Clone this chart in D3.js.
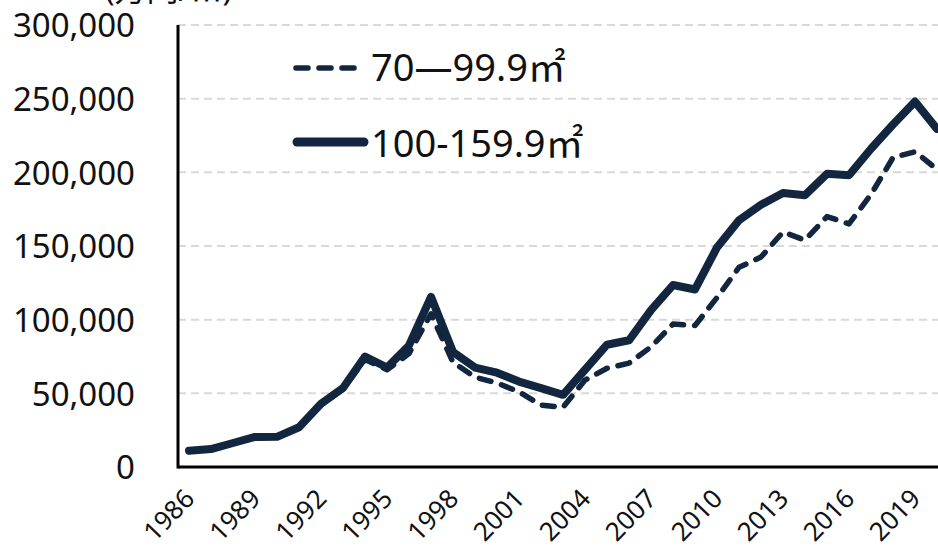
<!DOCTYPE html>
<html>
<head>
<meta charset="utf-8">
<script src="https://cdn.jsdelivr.net/npm/d3@7"></script>
<style>
  body { margin: 0; background: #fff; }
  text { font-family: "Noto Sans", "Noto Sans CJK JP", sans-serif; fill: #111; }
</style>
</head>
<body>
<div id="chart"></div>
<script>
// data
const years = d3.range(1986, 2021);
const tickYears = [1986, 1989, 1992, 1995, 1998, 2001, 2004, 2007, 2010, 2013, 2016, 2019];
const yTicks = [0, 50000, 100000, 150000, 200000, 250000, 300000];

const small = [ // 70-99.9
    10500, 12000, 16000, 20000, 20000, 26500, 42500, 53000, 73000, 66000,
    77000, 104000, 71000, 61000, 57000, 51000, 42000, 40500, 59000, 67000,
    70500, 81500, 97000, 96000, 115000, 135500, 142500, 159500, 154000, 170000,
    165000, 185000, 210000, 214000, 202000
];
const large = [ // 100-159.9
    11000, 12200, 16300, 20400, 20500, 27000, 43000, 53600, 75000, 67500,
    82500, 115500, 78000, 67500, 64000, 58000, 53500, 49000, 66000, 83000,
    86000, 106500, 123500, 120500, 149000, 167500, 178000, 186000, 184500, 199000,
    198000, 216000, 232500, 248000, 229500
];

const width = 938;
const height = 554;
const plotLeft = 178, plotTop = 25, plotBottom = 467;
const navy = "#13263f";

const svg = d3.select('#chart').append('svg')
    .attr('width', width)
    .attr('height', height);

const x = d3.scaleBand()
    .domain(years)
    .range([plotLeft, plotLeft + years.length * 22]);

const y = d3.scaleLinear()
    .domain([0, 300000])
    .range([plotBottom, plotTop]);

const cx = d => x(d) + x.bandwidth() / 2;

// grid
svg.append("g")
    .selectAll("line")
    .data(yTicks.filter(d => d > 0))
    .enter().append("line")
    .attr("x1", plotLeft)
    .attr("x2", width)
    .attr("y1", d => y(d))
    .attr("y2", d => y(d))
    .attr("stroke", "#d9d9d9")
    .attr("stroke-width", 2)
    .attr("stroke-dasharray", "8,5");

// y axis labels
const yAxis = d3.axisLeft(y)
    .tickValues(yTicks)
    .tickFormat(d3.format(","))
    .tickSize(0)
    .tickPadding(43);

svg.append("g")
    .attr("transform", `translate(${plotLeft},0)`)
    .call(yAxis)
    .call(g => g.select(".domain").remove())
    .selectAll("text")
    .style("font-size", "33px")
    .attr("dy", "0.36em");

// x axis labels
const xAxis = d3.axisBottom(x)
    .tickValues(tickYears)
    .tickSize(0)
    .tickPadding(0);

svg.append("g")
    .attr("transform", `translate(0,${plotBottom})`)
    .call(xAxis)
    .call(g => g.select(".domain").remove())
    .selectAll("text")
    .style("font-size", "26px")
    .attr("text-anchor", "end")
    .attr("dy", 0)
    .attr("transform", "translate(7,33) rotate(-46)");

// axis lines
svg.append("line")
    .attr("x1", plotLeft).attr("x2", plotLeft)
    .attr("y1", plotTop).attr("y2", plotBottom + 1.5)
    .attr("stroke", "#000").attr("stroke-width", 3);
svg.append("line")
    .attr("x1", plotLeft).attr("x2", width)
    .attr("y1", plotBottom).attr("y2", plotBottom)
    .attr("stroke", "#000").attr("stroke-width", 3);

// unit label, cut off at the top like in the picture
svg.append("text")
    .attr("x", 105)
    .attr("y", 1)
    .style("font-size", "32px")
    .text("(万円/㎡)");

const line = d3.line()
    .x((d, i) => cx(years[i]))
    .y(d => y(d));

svg.append("path")
    .datum(small)
    .attr("d", line)
    .attr("fill", "none")
    .attr("stroke", navy)
    .attr("stroke-width", 5.5)
    .attr("stroke-linecap", "round")
    .attr("stroke-linejoin", "round")
    .attr("stroke-dasharray", "12,11");

svg.append("path")
    .datum(large)
    .attr("d", line)
    .attr("fill", "none")
    .attr("stroke", navy)
    .attr("stroke-width", 8)
    .attr("stroke-linecap", "round")
    .attr("stroke-linejoin", "round");

// legend
const legend = svg.append("g");
legend.append("line")
    .attr("x1", 296).attr("x2", 356)
    .attr("y1", 68).attr("y2", 68)
    .attr("stroke", navy)
    .attr("stroke-width", 5.5)
    .attr("stroke-linecap", "round")
    .attr("stroke-dasharray", "12,11");
legend.append("text")
    .attr("x", 371).attr("y", 81)
    .style("font-size", "38px")
    .text("70—99.9㎡");

legend.append("line")
    .attr("x1", 297).attr("x2", 364)
    .attr("y1", 142).attr("y2", 142)
    .attr("stroke", navy)
    .attr("stroke-width", 9)
    .attr("stroke-linecap", "round");
legend.append("text")
    .attr("x", 371).attr("y", 157)
    .style("font-size", "38px")
    .text("100-159.9㎡");
</script>
</body>
</html>
